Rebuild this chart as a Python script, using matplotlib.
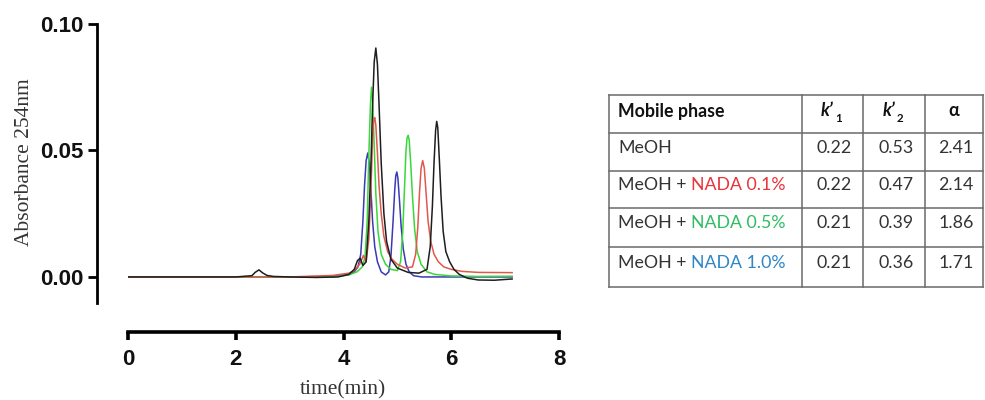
import matplotlib
matplotlib.use("Agg")
import matplotlib.pyplot as plt

# ---------------- data ----------------
# MeOH (black)
meoh_t = [0, 0.5, 1.0, 1.5, 2.0, 2.3, 2.36, 2.43, 2.5, 2.58, 2.7, 3.0, 3.5, 3.9, 4.1, 4.2, 4.26,
          4.31, 4.36, 4.42, 4.47, 4.51, 4.54, 4.57, 4.60, 4.63, 4.66, 4.70, 4.75, 4.80, 4.88, 5.0,
          5.2, 5.4, 5.55, 5.61, 5.65, 5.68, 5.71, 5.73, 5.75, 5.78, 5.81, 5.85, 5.9, 5.97, 6.05,
          6.15, 6.3, 6.5, 6.8, 7.13]
meoh_a = [0, 0, 0, 0, 0, 0.0005, 0.0018, 0.0028, 0.0016, 0.0006, 0.0002, 0, -0.0002, 0, 0.001,
          0.003, 0.0065, 0.0074, 0.0045, 0.006, 0.022, 0.045, 0.068, 0.085, 0.0905, 0.084, 0.068,
          0.045, 0.025, 0.014, 0.007, 0.0035, 0.0018, 0.0015, 0.003, 0.012, 0.028, 0.045, 0.058,
          0.0615, 0.059, 0.046, 0.032, 0.018, 0.010, 0.006, 0.003, 0.001, -0.0005, -0.0012,
          -0.0013, -0.0008]

# MeOH + NADA 0.1% (red)
nada01_t = [0, 1, 2, 3, 3.8, 4.1, 4.2, 4.3, 4.37, 4.42, 4.47, 4.51, 4.54, 4.56, 4.58, 4.6, 4.63,
            4.66, 4.7, 4.75, 4.82, 4.9, 5.0, 5.15, 5.28, 5.34, 5.38, 5.41, 5.44, 5.47, 5.5, 5.53,
            5.57, 5.62, 5.68, 5.76, 5.86, 6.0, 6.2, 6.5, 7.13]
nada01_a = [0, 0, 0, 0, 0.0006, 0.0015, 0.0025, 0.005, 0.0085, 0.006, 0.015, 0.035, 0.055, 0.062,
            0.063, 0.06, 0.049, 0.036, 0.025, 0.016, 0.010, 0.007, 0.005, 0.0035, 0.004, 0.009,
            0.02, 0.033, 0.043, 0.046, 0.043, 0.034, 0.022, 0.014, 0.009, 0.006, 0.004, 0.003,
            0.0022, 0.0018, 0.0017]

# MeOH + NADA 0.5% (green)
nada05_t = [0, 1, 2, 3, 3.8, 4.1, 4.25, 4.35, 4.4, 4.44, 4.47, 4.5, 4.52, 4.54, 4.57, 4.6, 4.64,
            4.7, 4.78, 4.88, 5.0, 5.06, 5.1, 5.13, 5.16, 5.18, 5.2, 5.22, 5.25, 5.28, 5.32, 5.37,
            5.44, 5.55, 5.7, 6.0, 6.5, 7.13]
nada05_a = [0, 0, 0, 0, 0, 0.0008, 0.002, 0.004, 0.008, 0.022, 0.048, 0.068, 0.075, 0.07, 0.052,
            0.033, 0.018, 0.009, 0.005, 0.003, 0.0025, 0.006, 0.018, 0.034, 0.050, 0.055, 0.056,
            0.054, 0.044, 0.032, 0.019, 0.010, 0.005, 0.002, 0.001, 0.0004, 0.0002, 0.0003]

# MeOH + NADA 1.0% (blue)
nada10_t = [0, 1, 2, 3, 3.8, 4.1, 4.2, 4.27, 4.32, 4.36, 4.39, 4.42, 4.45, 4.48, 4.51, 4.54, 4.58,
            4.63, 4.7, 4.78, 4.84, 4.88, 4.92, 4.95, 4.97, 4.99, 5.01, 5.04, 5.07, 5.11, 5.16,
            5.22, 5.3, 5.45, 5.7, 6.2, 7.13]
nada10_a = [0, 0, 0, 0, 0.0002, 0.001, 0.002, 0.004, 0.009, 0.022, 0.036, 0.046, 0.049, 0.045,
            0.034, 0.022, 0.012, 0.006, 0.002, 0.0008, 0.002, 0.008, 0.022, 0.034, 0.040, 0.0415,
            0.039, 0.030, 0.020, 0.011, 0.005, 0.002, 0.0005, 0, 0, 0, 0]

x_ticks = [0, 2, 4, 6, 8]
y_ticks = [0.00, 0.05, 0.10]
y_tick_labels = ["0.00", "0.05", "0.10"]

# table
table_header = ["Mobile phase", "k\u2019", "k\u2019", "\u03b1"]
header_sub = ["", "1", "2", ""]
phase_base = ["MeOH", "MeOH + ", "MeOH + ", "MeOH + "]
phase_nada = ["", "NADA 0.1%", "NADA 0.5%", "NADA 1.0%"]
nada_colors = ["#333333", "#e8343a", "#2ebd62", "#2e86c8"]
k1 = ["0.22", "0.22", "0.21", "0.21"]
k2 = ["0.53", "0.47", "0.39", "0.36"]
alpha = ["2.41", "2.14", "1.86", "1.71"]

# ---------------- figure ----------------
W, H = 985, 400
fig = plt.figure(figsize=(W / 100, H / 100), dpi=100)

ax = fig.add_axes([128 / W, 1 - 303 / H, (559 - 128) / W, (303 - 24) / H])
traces = [
    (nada10_t, nada10_a, "#3a3ab4"),
    (nada05_t, nada05_a, "#38d83a"),
    (nada01_t, nada01_a, "#e0584c"),
    (meoh_t, meoh_a, "#1e1e1e"),
]
for t, a, c in traces:
    ax.plot(t, a, color=c, lw=1.1, solid_joinstyle='round')

ax.set_xlim(0, 8)
ax.set_ylim(-0.0103, 0.10)
for s in ['top', 'right']:
    ax.spines[s].set_visible(False)
ax.spines['left'].set_position(('outward', 22.3))
ax.spines['bottom'].set_position(('outward', 20.9))
ax.spines['left'].set_linewidth(2.0)
ax.spines['bottom'].set_linewidth(2.6)
ax.set_xticks(x_ticks)
ax.set_yticks(y_ticks)
ax.set_yticklabels(y_tick_labels)
ax.tick_params(axis='y', length=6.5, width=2.0, pad=3.5)
ax.tick_params(axis='x', length=6, width=2.6, pad=6)
for lab in ax.get_xticklabels() + ax.get_yticklabels():
    lab.set_fontfamily('Liberation Sans')
    lab.set_fontweight('bold')
    lab.set_fontsize(16)
    lab.set_color('#111111')

fig.text(25 / W, 1 - 162 / H, "Absorbance 254nm", rotation=90, ha='center', va='center',
         fontfamily='Liberation Serif', fontsize=15.5, color='#333333')
fig.text(343 / W, 1 - 390 / H, "time(min)", ha='center', va='center',
         fontfamily='Liberation Serif', fontsize=15.5, color='#333333')

# ---------------- table ----------------
tax = fig.add_axes([0, 0, 1, 1])
tax.set_xlim(0, W)
tax.set_ylim(H, 0)
tax.axis('off')
col_edges = [609, 802, 863, 925, 983]
row_edges = [95, 133, 171, 208, 247, 287]
lc = '#6a6a6a'
for xe in col_edges:
    tax.plot([xe, xe], [row_edges[0], row_edges[-1]], color=lc, lw=1.1)
for ye in row_edges:
    tax.plot([col_edges[0], col_edges[-1]], [ye, ye], color=lc, lw=1.1)

fs = 12.8
tc = '#333333'
# header
hy = (row_edges[0] + row_edges[1]) / 2 - 3
tax.text(col_edges[0] + 9, hy, table_header[0], ha='left', va='center', fontfamily='Lato',
         fontweight='bold', fontsize=fs, color='#111111')
for j in range(1, 4):
    cx = (col_edges[j] + col_edges[j + 1]) / 2
    if header_sub[j]:
        tk = tax.text(cx + 1, hy, table_header[j], ha='right', va='center', fontfamily='Lato',
                      fontweight='bold', style='italic', fontsize=fs, color='#111111')
        tax.annotate(header_sub[j], xy=(1.0, 0.0), xycoords=tk, xytext=(1, 1),
                     textcoords='offset points', ha='left', va='center', fontfamily='Lato',
                     fontweight='bold', fontsize=fs * 0.65, color='#111111')
    else:
        tax.text(cx, hy, table_header[j], ha='center', va='center', fontfamily='Lato',
                 fontweight='bold', fontsize=fs, color='#111111')
for i in range(4):
    ry = (row_edges[i + 1] + row_edges[i + 2]) / 2 - 4
    t1 = tax.text(col_edges[0] + 9, ry, phase_base[i], ha='left', va='center',
                  fontfamily='Lato', fontsize=fs, color=tc)
    if phase_nada[i]:
        tax.annotate(phase_nada[i], xy=(1, 0.5), xycoords=t1, ha='left', va='center',
                     fontfamily='Lato', fontsize=fs, color=nada_colors[i])
    for j, vals in enumerate([k1, k2, alpha]):
        cx = (col_edges[j + 1] + col_edges[j + 2]) / 2 + 2
        tax.text(cx, ry, vals[i], ha='center', va='center', fontfamily='Lato',
                 fontsize=fs, color=tc)

fig.savefig("out.png", dpi=100)
